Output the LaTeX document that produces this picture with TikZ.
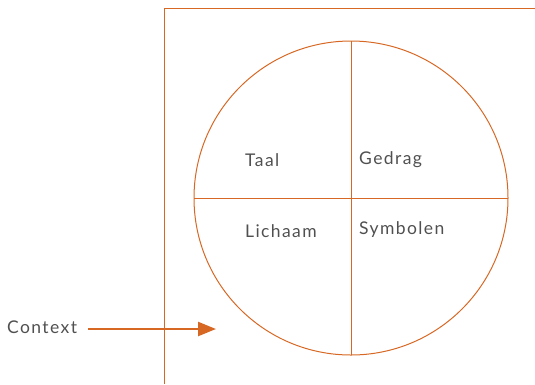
\documentclass[tikz,border=0pt]{standalone}
\usepackage{fontspec}
\setmainfont{Lato}[LetterSpace=8]
\usetikzlibrary{arrows.meta}
\definecolor{orng}{RGB}{214,104,36}
\definecolor{txt}{RGB}{80,80,80}
\begin{document}
\begin{tikzpicture}[x=1pt,y=-1pt,
  ln/.style={draw=orng,line width=1pt},
  lbl/.style={anchor=west,inner sep=0pt,text=txt,font=\fontsize{17.5}{19}\selectfont}]
\useasboundingbox (0,0) rectangle (535,384);
\coordinate (fb) at (164,384);
\coordinate (fc) at (164,8.5);
\coordinate (fr) at (535,8.5);
\draw[ln] (fb) -- (fc) -- (fr);
\coordinate (c) at (351,198);
\draw[ln] (c) circle[radius=157];
\coordinate (ct) at (351,41);
\coordinate (cb) at (351,355);
\coordinate (cl) at (194,198);
\coordinate (cr) at (508,198);
\draw[ln] (ct) -- (cb);
\draw[ln] (cl) -- (cr);
\node[lbl] (taal) at (245,160) {Taal};
\node[lbl] (gedrag) at (359,160) {Gedrag};
\node[lbl] (lichaam) at (245,231) {Lichaam};
\node[lbl] (symbolen) at (359,230) {Symbolen};
\node[lbl] (context) at (7,327) {Context};
\coordinate (as) at (88,329);
\coordinate (ae) at (216,329);
\draw[draw=orng,line width=2.4pt,-{Triangle[length=18pt,width=14pt]},orng] (as) -- (ae);
\end{tikzpicture}
\end{document}
